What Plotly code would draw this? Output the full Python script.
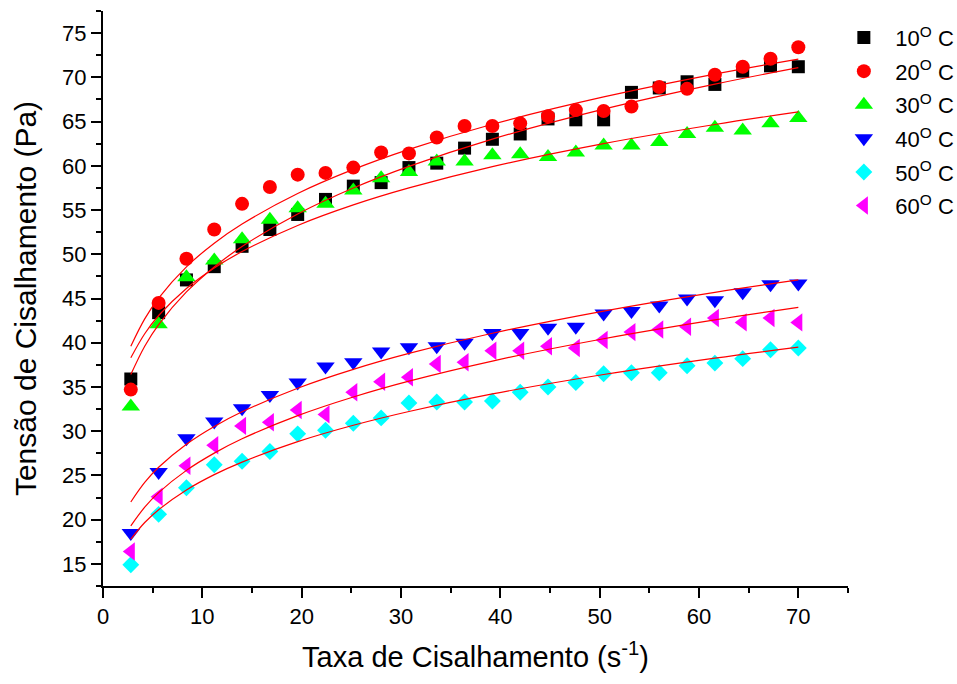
import plotly.graph_objects as go

# Shear rate (s^-1)
shear_rate = [2.8, 5.6, 8.4, 11.2, 14.0, 16.8, 19.6, 22.4, 25.2, 28.0, 30.8, 33.6, 36.4,
              39.2, 42.0, 44.8, 47.6, 50.4, 53.2, 56.0, 58.8, 61.6, 64.4, 67.2, 70.0]

# Shear stress (Pa) for each temperature
t10 = [35.9, 43.4, 47.1, 48.6, 50.9, 52.8, 54.5, 56.2, 57.7, 58.1, 59.8, 60.3, 62.0,
       63.0, 63.6, 65.3, 65.2, 65.2, 68.3, 68.8, 69.5, 69.2, 70.7, 71.3, 71.2]
t20 = [34.7, 44.5, 49.5, 52.8, 55.7, 57.6, 59.0, 59.2, 59.8, 61.5, 61.4, 63.2, 64.5,
       64.5, 64.8, 65.6, 66.3, 66.2, 66.7, 68.9, 68.7, 70.3, 71.2, 72.1, 73.4]
t30 = [32.8, 42.1, 47.4, 49.3, 51.7, 53.9, 55.2, 55.7, 57.2, 58.6, 59.3, 60.5, 60.5,
       61.2, 61.3, 61.0, 61.5, 62.3, 62.3, 62.7, 63.6, 64.3, 64.0, 64.8, 65.4]
t40 = [18.5, 25.4, 29.2, 31.1, 32.6, 34.1, 35.5, 37.3, 37.8, 39.0, 39.5, 39.6, 40.0,
       41.1, 41.1, 41.7, 41.8, 43.3, 43.6, 44.2, 45.0, 44.8, 45.7, 46.6, 46.7]
t50 = [14.9, 20.6, 23.6, 26.2, 26.6, 27.7, 29.7, 30.1, 30.9, 31.5, 33.2, 33.3, 33.3,
       33.4, 34.4, 35.0, 35.5, 36.5, 36.6, 36.6, 37.4, 37.7, 38.2, 39.2, 39.4]
t60 = [16.4, 22.6, 26.1, 28.4, 30.6, 31.0, 32.4, 31.9, 34.4, 35.6, 36.1, 37.6, 37.8,
       39.1, 39.1, 39.6, 39.4, 40.3, 41.2, 41.5, 41.8, 42.8, 42.3, 42.8, 42.3]

# Fitted curves at these shear rates
fit_x = [2.8, 4.2, 5.6, 8.4, 11.2, 14.0, 19.6, 25.2, 30.8, 39.2, 50.4, 61.6, 70.0]
fit10 = [36.4, 39.60, 42.05, 45.74, 48.57, 50.88, 54.56, 57.49, 59.94, 63.02, 66.40, 69.23, 71.10]
fit20 = [39.6, 42.70, 45.05, 48.58, 51.25, 53.42, 56.87, 59.59, 61.86, 64.70, 67.79, 70.37, 72.06]
fit30 = [38.3, 41.02, 43.08, 46.14, 48.45, 50.31, 53.26, 55.58, 57.50, 59.91, 62.51, 64.67, 66.09]
fit40 = [22.0, 24.21, 25.92, 28.53, 30.54, 32.19, 34.86, 36.99, 38.79, 41.07, 43.58, 45.70, 47.10]
fit50 = [17.8, 19.68, 21.13, 23.36, 25.09, 26.51, 28.82, 30.67, 32.23, 34.21, 36.41, 38.26, 39.50]
fit60 = [19.3, 21.41, 23.05, 25.57, 27.52, 29.14, 31.76, 33.87, 35.66, 37.93, 40.45, 42.58, 44.00]

labels = ["10<sup>O</sup> C", "20<sup>O</sup> C", "30<sup>O</sup> C",
          "40<sup>O</sup> C", "50<sup>O</sup> C", "60<sup>O</sup> C"]

FONT = "Arial, Liberation Sans, sans-serif"

series = [
    (t10, fit10, "#000000", "square", 13),
    (t20, fit20, "#FF0000", "circle", 14),
    (t30, fit30, "#00FF00", "triangle-up", 16),
    (t40, fit40, "#0000FF", "triangle-down", 16),
    (t50, fit50, "#00FFFF", "diamond", 13),
    (t60, fit60, "#FF00FF", "triangle-left", 16),
]

fig = go.Figure()
for i, (vals, fit, col, sym, sz) in enumerate(series):
    fig.add_trace(go.Scatter(
        x=shear_rate, y=vals, mode="markers", name=labels[i],
        legendgroup=f"g{i}",
        marker=dict(symbol=sym, size=sz, color=col, line=dict(width=0)),
    ))
for i, (vals, fit, col, sym, sz) in enumerate(series):
    fig.add_trace(go.Scatter(
        x=fit_x, y=fit, mode="lines", showlegend=False,
        line=dict(color="#FF0000", width=1.2, shape="spline"),
        hoverinfo="skip",
    ))

axis_common = dict(
    showline=True, linecolor="black", linewidth=2,
    ticks="outside", ticklen=10, tickwidth=2, tickcolor="black",
    showgrid=False, zeroline=False, mirror=False,
    tickfont=dict(family=FONT, size=22, color="black"),
)

fig.update_xaxes(
    range=[0, 75], tickmode="array", tickvals=[0, 10, 20, 30, 40, 50, 60, 70],
    minor=dict(tickvals=[5, 15, 25, 35, 45, 55, 65, 75], ticks="outside", ticklen=5,
               tickwidth=2, tickcolor="black"),
    title=dict(text="Taxa de Cisalhamento (s<sup>-1</sup>)",
               font=dict(family=FONT, size=29, color="black"), standoff=18),
    **axis_common,
)
fig.update_yaxes(
    range=[12.5, 77.5], tickmode="array",
    tickvals=[15, 20, 25, 30, 35, 40, 45, 50, 55, 60, 65, 70, 75],
    minor=dict(tickvals=[12.5, 17.5, 22.5, 27.5, 32.5, 37.5, 42.5, 47.5, 52.5,
                         57.5, 62.5, 67.5, 72.5, 77.5],
               ticks="outside", ticklen=5, tickwidth=2, tickcolor="black"),
    title=dict(text="Tensão de Cisalhamento (Pa)",
               font=dict(family=FONT, size=30, color="black"), standoff=17),
    **axis_common,
)

fig.update_layout(
    width=957, height=684,
    margin=dict(l=103, r=109, t=11, b=98, autoexpand=False),
    paper_bgcolor="white", plot_bgcolor="white",
    font=dict(family=FONT, color="black"),
    legend=dict(x=0.979, y=0.99, xanchor="left", yanchor="top",
                font=dict(family=FONT, size=22, color="black"),
                bgcolor="rgba(0,0,0,0)", tracegroupgap=2, itemwidth=53),
)

fig.write_html("out.html")
